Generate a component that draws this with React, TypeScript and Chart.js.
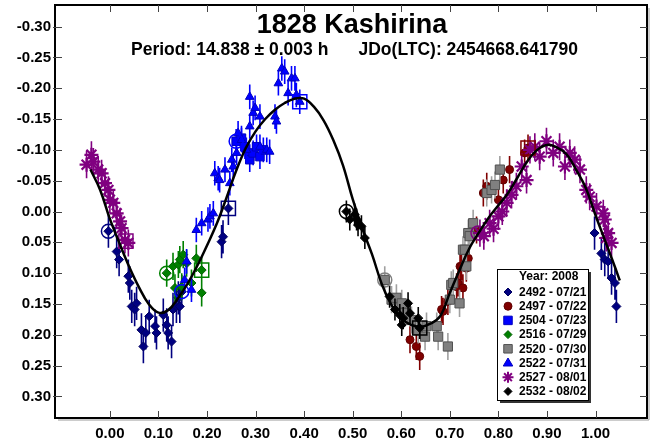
import React, { useEffect, useRef } from 'react';
import { Chart, registerables } from 'chart.js';

Chart.register(...registerables);

// ---- axes ----
const xTickValues = [0, 0.1, 0.2, 0.3, 0.4, 0.5, 0.6, 0.7, 0.8, 0.9, 1.0];
const yTickValues = [-0.3, -0.25, -0.2, -0.15, -0.1, -0.05, 0, 0.05, 0.1, 0.15, 0.2, 0.25, 0.3];
const X_MIN = -0.113;
const X_MAX = 1.106;
const Y_MIN = -0.335;
const Y_MAX = 0.335;

const titleText = '1828 Kashirina';
const periodText = 'Period: 14.838 ± 0.003 h';
const epochText = 'JDo(LTC): 2454668.641790';
const legendHeader = 'Year: 2008';

// ---- sessions ----
const sessionLabels = ['2492 - 07/21', '2497 - 07/22', '2504 - 07/23', '2516 - 07/29', '2520 - 07/30', '2522 - 07/31', '2527 - 08/01', '2532 - 08/02'];
const sessionErr = [0.027, 0.022, 0.02, 0.022, 0.022, 0.02, 0.022, 0.018];

const s2492Phase = [-0.003, 0.014, 0.019, 0.038, 0.041, 0.045, 0.051, 0.055, 0.065, 0.069, 0.074, 0.081, 0.093, 0.096, 0.110, 0.117, 0.120, 0.127, 0.130, 0.137, 0.141, 0.144, 0.148, 0.230, 0.233, 0.244, 0.998, 1.012, 1.019, 1.026, 1.033, 1.040, 1.043];
const s2492Mag = [0.032, 0.065, 0.078, 0.105, 0.116, 0.154, 0.159, 0.149, 0.192, 0.219, 0.197, 0.170, 0.186, 0.197, 0.168, 0.184, 0.197, 0.211, 0.159, 0.154, 0.140, 0.154, 0.130, 0.049, 0.041, -0.005, 0.035, 0.068, 0.078, 0.081, 0.108, 0.116, 0.154];

const s2497Phase = [0.618, 0.631, 0.638, 0.683, 0.686, 0.696, 0.714, 0.717, 0.721, 0.724, 0.727, 0.734, 0.738, 0.755, 0.769, 0.776, 0.800, 0.810, 0.823, 0.854, 0.861];
const s2497Mag = [0.208, 0.219, 0.235, 0.159, 0.162, 0.146, 0.122, 0.116, 0.089, 0.089, 0.124, 0.092, 0.076, 0.030, -0.030, -0.041, -0.019, -0.051, -0.068, -0.095, -0.103];

const s2504Phase = [0.260, 0.271, 0.278, 0.288, 0.288, 0.295, 0.302, 0.309, 0.316];
const s2504Mag = [-0.114, -0.119, -0.105, -0.089, -0.084, -0.095, -0.105, -0.089, -0.100];

const s2516Phase = [0.117, 0.130, 0.134, 0.141, 0.144, 0.148, 0.151, 0.158, 0.168, 0.178, 0.189, 0.189];
const s2516Mag = [0.100, 0.089, 0.124, 0.086, 0.078, 0.122, 0.070, 0.084, 0.116, 0.076, 0.095, 0.132];

const s2520Phase = [0.566, 0.580, 0.590, 0.601, 0.607, 0.621, 0.635, 0.649, 0.652, 0.673, 0.676, 0.696, 0.700, 0.703, 0.707, 0.720, 0.727, 0.731, 0.734, 0.738, 0.741, 0.748, 0.776, 0.786, 0.793, 0.803];
const s2520Mag = [0.111, 0.143, 0.140, 0.149, 0.165, 0.176, 0.192, 0.203, 0.186, 0.186, 0.203, 0.219, 0.143, 0.119, 0.116, 0.149, 0.062, 0.062, 0.089, 0.035, 0.040, 0.019, -0.030, -0.035, -0.043, -0.068];

const s2522Phase = [0.154, 0.158, 0.168, 0.178, 0.189, 0.202, 0.206, 0.213, 0.216, 0.223, 0.226, 0.237, 0.247, 0.251, 0.254, 0.261, 0.264, 0.271, 0.281, 0.288, 0.288, 0.295, 0.299, 0.309, 0.309, 0.323, 0.329, 0.340, 0.343, 0.347, 0.354, 0.360, 0.367, 0.374, 0.381, 0.384, 0.391];
const s2522Mag = [0.111, 0.081, 0.127, 0.030, 0.019, 0.013, 0.008, 0.003, -0.062, -0.054, -0.051, -0.068, -0.046, -0.084, -0.073, -0.095, -0.127, -0.116, -0.100, -0.138, -0.186, -0.160, -0.168, -0.154, -0.105, -0.100, -0.097, -0.154, -0.146, -0.208, -0.232, -0.227, -0.192, -0.216, -0.216, -0.189, -0.178];

const s2527Phase = [-0.048, -0.038, -0.034, -0.024, -0.017, -0.010, -0.003, 0.000, 0.007, 0.014, 0.021, 0.024, 0.031, 0.038, 0.762, 0.770, 0.782, 0.790, 0.800, 0.808, 0.817, 0.827, 0.837, 0.848, 0.858, 0.865, 0.875, 0.885, 0.899, 0.913, 0.926, 0.937, 0.947, 0.957, 0.968, 0.981, 0.988, 1.002, 1.016, 1.019, 1.022, 1.026, 1.033];
const s2527Mag = [-0.076, -0.092, -0.081, -0.068, -0.062, -0.046, -0.035, -0.019, -0.014, 0.003, 0.016, 0.027, 0.046, 0.051, 0.035, 0.040, 0.019, 0.028, 0.008, 0.000, -0.014, -0.027, -0.041, -0.073, -0.051, -0.100, -0.105, -0.089, -0.114, -0.095, -0.105, -0.073, -0.095, -0.084, -0.068, -0.035, -0.024, -0.008, 0.003, 0.013, 0.043, 0.035, 0.051];

const s2532Phase = [0.487, 0.494, 0.504, 0.508, 0.511, 0.518, 0.525, 0.576, 0.587, 0.597, 0.601, 0.604, 0.614, 0.618, 0.635, 0.638];
const s2532Mag = [0.000, 0.013, 0.005, 0.013, 0.022, 0.024, 0.043, 0.138, 0.159, 0.168, 0.184, 0.173, 0.149, 0.165, 0.173, 0.189];

// session start (open circle) / end (open square) marks
const openCirclePhase = [-0.003, 0.148, 0.260, 0.117, 0.566, 0.487, 0.758];
const openCircleMag = [0.032, 0.130, -0.114, 0.100, 0.111, 0.000, 0.035];
const openCircleSession = [0, 5, 2, 3, 4, 7, 6];
const openSquarePhase = [0.244, 0.391, 0.189, 0.033, 0.638, 0.861];
const openSquareMag = [-0.005, -0.178, 0.095, 0.048, 0.189, -0.103];
const openSquareSession = [0, 5, 3, 6, 7, 1];

// Fourier fit curve
const fitPhase = [-0.04, -0.02, 0.0, 0.02, 0.04, 0.06, 0.08, 0.10, 0.12, 0.14, 0.16, 0.18, 0.20, 0.22, 0.24, 0.26, 0.28, 0.30, 0.32, 0.34, 0.36, 0.38, 0.40, 0.42, 0.44, 0.46, 0.48, 0.50, 0.52, 0.54, 0.56, 0.58, 0.60, 0.62, 0.64, 0.66, 0.68, 0.70, 0.72, 0.74, 0.76, 0.78, 0.80, 0.82, 0.84, 0.86, 0.88, 0.90, 0.92, 0.94, 0.96, 0.98, 1.00, 1.02, 1.04, 1.05];
const fitMag = [-0.068, -0.035, 0.012, 0.052, 0.090, 0.123, 0.150, 0.164, 0.160, 0.141, 0.117, 0.088, 0.055, 0.020, -0.022, -0.066, -0.103, -0.130, -0.150, -0.165, -0.176, -0.183, -0.183, -0.170, -0.148, -0.116, -0.075, -0.020, 0.028, 0.070, 0.118, 0.152, 0.173, 0.184, 0.187, 0.182, 0.170, 0.132, 0.095, 0.060, 0.034, 0.010, -0.010, -0.030, -0.056, -0.082, -0.100, -0.108, -0.104, -0.093, -0.068, -0.038, 0.006, 0.048, 0.090, 0.112];

const sessionPhases = [s2492Phase, s2497Phase, s2504Phase, s2516Phase, s2520Phase, s2522Phase, s2527Phase, s2532Phase];
const sessionMags = [s2492Mag, s2497Mag, s2504Mag, s2516Mag, s2520Mag, s2522Mag, s2527Mag, s2532Mag];

// ---- styles ----
const FONT = '"Liberation Sans", Arial, Helvetica, sans-serif';
const sessionColor = ['#000080', '#800000', '#0000FF', '#008000', '#808080', '#0000FF', '#800080', '#000000'];
const sessionBorder = ['#000060', '#600000', '#0000C0', '#006000', '#505050', '#0000C0', '#800080', '#000000'];
const sessionErrColor = ['#000080', '#800000', '#0000FF', '#008000', '#A0A0A0', '#0000FF', '#800080', '#000000'];
const sessionStyle = ['rectRot', 'circle', 'rect', 'rectRot', 'rect', 'triangle', 'star', 'rectRot'];
const sessionRadius = [4.5, 4, 6, 4.5, 6.5, 5, 7, 4.5];

const fmt = (v: number) => (Math.abs(v) < 1e-9 ? 0 : v).toFixed(2);

function drawMarker(ctx: CanvasRenderingContext2D, style: string, x: number, y: number, r: number, fill: string, stroke: string) {
  ctx.save();
  ctx.fillStyle = fill;
  ctx.strokeStyle = stroke;
  ctx.lineWidth = 1;
  ctx.beginPath();
  if (style === 'rectRot') {
    ctx.moveTo(x, y - r); ctx.lineTo(x + r, y); ctx.lineTo(x, y + r); ctx.lineTo(x - r, y); ctx.closePath();
    ctx.fill(); ctx.stroke();
  } else if (style === 'circle') {
    ctx.arc(x, y, r, 0, Math.PI * 2); ctx.fill(); ctx.stroke();
  } else if (style === 'rect') {
    const s = r * Math.SQRT1_2;
    ctx.rect(x - s, y - s, 2 * s, 2 * s); ctx.fill(); ctx.stroke();
  } else if (style === 'triangle') {
    ctx.moveTo(x, y - r); ctx.lineTo(x + r * 0.95, y + r * 0.6); ctx.lineTo(x - r * 0.95, y + r * 0.6); ctx.closePath();
    ctx.fill(); ctx.stroke();
  } else if (style === 'star') {
    ctx.lineWidth = 2;
    for (let k = 0; k < 4; k++) {
      const a = (k * Math.PI) / 4;
      ctx.moveTo(x - r * Math.cos(a), y - r * Math.sin(a));
      ctx.lineTo(x + r * Math.cos(a), y + r * Math.sin(a));
    }
    ctx.stroke();
  }
  ctx.restore();
}

const decorPlugin = {
  id: 'decor',
  beforeDatasetDraw(chart: any, args: any) {
    const ds = chart.data.datasets[args.index];
    if (ds.errMag === undefined) return;
    const ctx = chart.ctx;
    const ys = chart.scales.y;
    const meta = args.meta;
    ctx.save();
    ctx.strokeStyle = ds.errColor;
    ctx.lineWidth = 1.6;
    ctx.beginPath();
    meta.data.forEach((pt: any, i: number) => {
      const v = ds.data[i].y;
      ctx.moveTo(pt.x, ys.getPixelForValue(v - ds.errMag));
      ctx.lineTo(pt.x, ys.getPixelForValue(v + ds.errMag));
    });
    ctx.stroke();
    ctx.restore();
  },
  afterDraw(chart: any) {
    const ctx = chart.ctx as CanvasRenderingContext2D;
    const a = chart.chartArea;
    const xs = chart.scales.x;
    const ys = chart.scales.y;
    ctx.save();
    // frame shadow
    ctx.strokeStyle = '#9a9a9a';
    ctx.lineWidth = 1;
    ctx.beginPath();
    ctx.moveTo(a.right + 2, a.top + 3); ctx.lineTo(a.right + 2, a.bottom + 2); ctx.lineTo(a.left + 3, a.bottom + 2);
    ctx.stroke();
    // frame
    ctx.strokeStyle = '#000';
    ctx.lineWidth = 2;
    ctx.strokeRect(a.left, a.top, a.right - a.left, a.bottom - a.top);
    // ticks
    ctx.strokeStyle = '#444';
    ctx.lineWidth = 1;
    ctx.beginPath();
    xTickValues.forEach((v) => {
      const px = Math.round(xs.getPixelForValue(v)) + 0.5;
      ctx.moveTo(px, a.bottom); ctx.lineTo(px, a.bottom - 7);
      ctx.moveTo(px, a.top); ctx.lineTo(px, a.top + 7);
    });
    yTickValues.forEach((v) => {
      const py = Math.round(ys.getPixelForValue(v)) + 0.5;
      ctx.moveTo(a.left - 2, py); ctx.lineTo(a.left + 7, py);
      ctx.moveTo(a.right, py); ctx.lineTo(a.right - 7, py);
    });
    ctx.stroke();

    // title
    const cx = (a.left + a.right) / 2;
    ctx.fillStyle = '#000';
    ctx.textBaseline = 'middle';
    ctx.textAlign = 'center';
    ctx.font = `bold 27px ${FONT}`;
    ctx.fillText(titleText, cx + 1, 26);
    ctx.font = `bold 17.5px ${FONT}`;
    ctx.textAlign = 'left';
    ctx.fillText(periodText, 131, 50);
    ctx.textAlign = 'right';
    ctx.fillText(epochText, 578, 50);

    // legend
    const L = 497, T = 269, R = 588, B = 400;
    ctx.fillStyle = '#333';
    ctx.fillRect(L + 3, T + 3, R - L, B - T);
    ctx.fillStyle = '#fff';
    ctx.fillRect(L, T, R - L, B - T);
    ctx.strokeStyle = '#000';
    ctx.lineWidth = 1;
    ctx.strokeRect(L + 0.5, T + 0.5, R - L, B - T);
    ctx.fillStyle = '#000';
    ctx.textAlign = 'left';
    ctx.textBaseline = 'middle';
    ctx.font = `bold 12px ${FONT}`;
    ctx.fillText(legendHeader, 519, 277);
    sessionLabels.forEach((lab, i) => {
      const y = 292 + i * 14.2;
      const st = sessionStyle[i];
      const r = st === 'rect' ? 6 : st === 'star' ? 5.5 : st === 'triangle' ? 5 : 4;
      drawMarker(ctx, st, 508, y, r, sessionColor[i], sessionBorder[i]);
      ctx.fillStyle = '#000';
      ctx.fillText(lab, 519, y + 0.5);
    });
    ctx.restore();
  },
};

export default function App() {
  const ref = useRef<HTMLCanvasElement>(null);
  useEffect(() => {
    if (!ref.current) return;
    const datasets: any[] = [];
    sessionLabels.forEach((lab, i) => {
      datasets.push({
        label: lab,
        data: sessionPhases[i].map((p, k) => ({ x: p, y: sessionMags[i][k] })),
        pointStyle: sessionStyle[i],
        pointRadius: sessionRadius[i],
        pointBackgroundColor: sessionColor[i],
        pointBorderColor: sessionBorder[i],
        pointBorderWidth: sessionStyle[i] === 'star' ? 2.2 : 1,
        showLine: false,
        errMag: sessionErr[i],
        errColor: sessionErrColor[i],
        order: 20 - i,
      });
    });
    datasets.push({
      label: 'start',
      data: openCirclePhase.map((p, k) => ({ x: p, y: openCircleMag[k] })),
      pointStyle: 'circle',
      pointRadius: 7,
      pointBackgroundColor: 'rgba(0,0,0,0)',
      pointBorderColor: openCircleSession.map((s) => sessionColor[s]),
      pointBorderWidth: 1.5,
      showLine: false,
      order: 3,
    });
    datasets.push({
      label: 'end',
      data: openSquarePhase.map((p, k) => ({ x: p, y: openSquareMag[k] })),
      pointStyle: 'rect',
      pointRadius: 10,
      pointBackgroundColor: 'rgba(0,0,0,0)',
      pointBorderColor: openSquareSession.map((s) => sessionColor[s]),
      pointBorderWidth: 1.5,
      showLine: false,
      order: 2,
    });
    datasets.push({
      label: 'fit',
      data: fitPhase.map((p, k) => ({ x: p, y: fitMag[k] })),
      showLine: true,
      borderColor: '#000',
      borderWidth: 2.5,
      pointRadius: 0,
      tension: 0.4,
      fill: false,
      order: 1,
    });

    const chart = new Chart(ref.current, {
      type: 'scatter',
      data: { datasets },
      options: {
        responsive: false,
        animation: false,
        devicePixelRatio: 1,
        layout: { autoPadding: false, padding: { top: 5, right: 4, left: 0, bottom: 0 } },
        plugins: { legend: { display: false }, tooltip: { enabled: false }, title: { display: false } },
        scales: {
          x: {
            type: 'linear',
            min: X_MIN,
            max: X_MAX,
            grid: { display: false, drawTicks: false },
            border: { display: false },
            afterBuildTicks: (s: any) => { s.ticks = xTickValues.map((v) => ({ value: v })); },
            afterFit: (s: any) => { s.height = 23; s.paddingLeft = 0; s.paddingRight = 0; s.paddingTop = 0; s.paddingBottom = 0; },
            ticks: {
              callback: (v: any) => fmt(Number(v)),
              font: { family: FONT, size: 15, weight: 'bold' },
              color: '#000',
              padding: 7,
              maxRotation: 0,
              autoSkip: false,
            },
          },
          y: {
            type: 'linear',
            reverse: true,
            min: Y_MIN,
            max: Y_MAX,
            grid: { display: false, drawTicks: false },
            border: { display: false },
            afterBuildTicks: (s: any) => { s.ticks = yTickValues.map((v) => ({ value: v })); },
            afterFit: (s: any) => { s.width = 55; s.paddingLeft = 0; s.paddingRight = 0; s.paddingTop = 0; s.paddingBottom = 0; },
            ticks: {
              callback: (v: any) => fmt(Number(v)),
              font: { family: FONT, size: 15, weight: 'bold' },
              color: '#000',
              padding: 4,
              autoSkip: false,
            },
          },
        },
      } as any,
      plugins: [decorPlugin],
    });
    return () => chart.destroy();
  }, []);
  return (
    <div style={{ position: 'absolute', left: 0, top: 0, width: 651, height: 441, background: '#fff' }}>
      <canvas ref={ref} width={651} height={441} />
    </div>
  );
}
